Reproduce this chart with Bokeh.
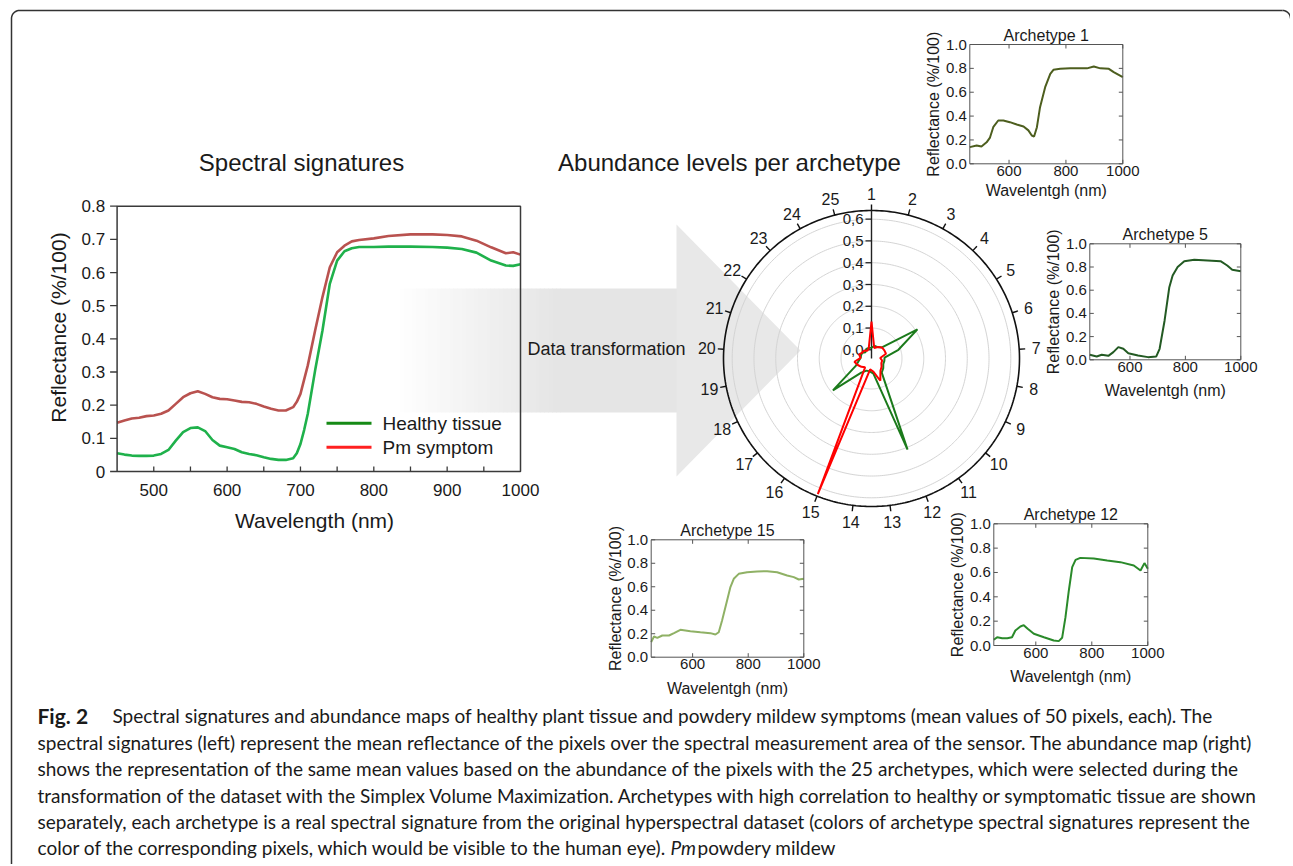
import numpy as np
from bokeh.plotting import figure
from bokeh.models import Range1d
from bokeh.embed import file_html
from bokeh.resources import INLINE
from bokeh.core.properties import value

# ---------------- DATA ----------------
# Left panel: spectral signatures (mean of 50 pixels)
healthy_wl = [450, 460, 470, 480, 490, 500, 510, 520, 530, 540, 550, 560, 570, 580, 590, 600,
              610, 620, 630, 640, 650, 660, 670, 680, 690, 695, 700, 705, 710, 720, 730, 740,
              750, 760, 770, 780, 800, 820, 850, 880, 900, 920, 940, 960, 980, 990, 1000]
healthy_refl = [0.055, 0.051, 0.048, 0.047, 0.047, 0.048, 0.053, 0.065, 0.093, 0.119, 0.131, 0.133,
                0.122, 0.095, 0.078, 0.073, 0.068, 0.058, 0.053, 0.049, 0.043, 0.038, 0.035, 0.035,
                0.040, 0.055, 0.083, 0.125, 0.174, 0.305, 0.425, 0.566, 0.636, 0.664, 0.673, 0.677,
                0.677, 0.678, 0.678, 0.677, 0.675, 0.671, 0.660, 0.636, 0.621, 0.620, 0.625]
pm_wl = [450, 460, 470, 480, 490, 500, 510, 520, 530, 540, 550, 560, 570, 580, 590, 600,
         610, 620, 630, 640, 650, 660, 670, 680, 690, 695, 700, 710, 720, 730, 740,
         750, 760, 770, 780, 800, 820, 850, 880, 900, 920, 940, 960, 980, 990, 1000]
pm_refl = [0.147, 0.154, 0.160, 0.162, 0.167, 0.169, 0.174, 0.184, 0.204, 0.224, 0.236, 0.242,
           0.234, 0.224, 0.219, 0.218, 0.214, 0.210, 0.209, 0.204, 0.196, 0.189, 0.184, 0.184,
           0.194, 0.210, 0.234, 0.320, 0.425, 0.526, 0.616, 0.661, 0.681, 0.694, 0.698, 0.703,
           0.710, 0.715, 0.715, 0.713, 0.709, 0.696, 0.676, 0.658, 0.661, 0.654]
main_xticks = [500, 600, 700, 800, 900, 1000]
main_xminor = [500, 550, 600, 650, 700, 750, 800, 850, 900, 950]
main_yticks = [0, 0.1, 0.2, 0.3, 0.4, 0.5, 0.6, 0.7, 0.8]
main_ytick_labels = ["0", "0.1", "0.2", "0.3", "0.4", "0.5", "0.6", "0.7", "0.8"]

# Radar: abundance levels per archetype
archetypes = list(range(1, 26))
healthy_abund = [0.01, 0.02, 0.02, 0.03, 0.21, 0.09, 0.02, 0.02, 0.02, 0.03, 0.04, 0.41, 0.03,
                 0.02, 0.02, 0.04, 0.19, 0.04, 0.02, 0.01, 0.01, 0.01, 0.00, 0.01, 0.01]
pm_abund = [0.13, 0.01, 0.02, 0.03, 0.03, 0.03, 0.00, 0.01, 0.01, 0.02, 0.03, 0.07, 0.02,
            0.01, 0.63, 0.01, 0.02, 0.03, 0.04, 0.01, 0.02, 0.01, 0.01, 0.00, 0.01]
radar_ticks = [0.0, 0.1, 0.2, 0.3, 0.4, 0.5, 0.6]
radar_tick_labels = ["0,0", "0,1", "0,2", "0,3", "0,4", "0,5", "0,6"]

# Archetype spectral signatures (insets)
arch1_wl = [462, 486, 503, 521, 533, 545, 562, 580, 603, 627, 651, 668, 680, 688, 698, 709, 727,
            745, 756, 780, 815, 874, 898, 921, 951, 968, 1000]
arch1_refl = [0.14, 0.154, 0.145, 0.18, 0.22, 0.31, 0.363, 0.363, 0.349, 0.33, 0.313, 0.28, 0.237,
              0.229, 0.307, 0.475, 0.642, 0.754, 0.788, 0.796, 0.80, 0.80, 0.816, 0.80, 0.796,
              0.768, 0.726]
arch5_wl = [455, 480, 498, 522, 540, 558, 576, 594, 629, 665, 695, 707, 725, 742, 754, 772, 796,
            832, 880, 927, 951, 969, 1000]
arch5_refl = [0.043, 0.029, 0.043, 0.034, 0.066, 0.109, 0.095, 0.057, 0.037, 0.023, 0.029, 0.095,
              0.339, 0.626, 0.727, 0.80, 0.85, 0.862, 0.856, 0.85, 0.813, 0.776, 0.764]
arch15_wl = [451, 461, 473, 491, 515, 533, 556, 592, 628, 664, 682, 694, 706, 724, 736, 748, 766,
             796, 832, 868, 904, 940, 964, 982, 1000]
arch15_refl = [0.128, 0.176, 0.165, 0.185, 0.185, 0.205, 0.233, 0.222, 0.213, 0.205, 0.193, 0.213,
               0.313, 0.483, 0.597, 0.668, 0.71, 0.724, 0.73, 0.733, 0.724, 0.696, 0.682, 0.662,
               0.668]
arch12_wl = [450, 462, 480, 498, 515, 527, 545, 557, 571, 593, 629, 664, 682, 694, 706, 718, 730,
             742, 759, 807, 855, 902, 950, 974, 988, 1000]
arch12_refl = [0.047, 0.068, 0.06, 0.06, 0.068, 0.123, 0.156, 0.167, 0.137, 0.096, 0.068, 0.041,
               0.036, 0.063, 0.233, 0.452, 0.644, 0.704, 0.72, 0.715, 0.699, 0.685, 0.658, 0.616,
               0.677, 0.63]
inset_xticks = [600, 800, 1000]
inset_yticks = [0.0, 0.2, 0.4, 0.6, 0.8, 1.0]
inset_ytick_labels = ["0.0", "0.2", "0.4", "0.6", "0.8", "1.0"]

caption_lines = [
    "Spectral signatures and abundance maps of healthy plant tissue and powdery mildew symptoms (mean values of 50 pixels, each). The",
    "spectral signatures (left) represent the mean reflectance of the pixels over the spectral measurement area of the sensor. The abundance map (right)",
    "shows the representation of the same mean values based on the abundance of the pixels with the 25 archetypes, which were selected during the",
    "transformation of the dataset with the Simplex Volume Maximization. Archetypes with high correlation to healthy or symptomatic tissue are shown",
    "separately, each archetype is a real spectral signature from the original hyperspectral dataset (colors of archetype spectral signatures represent the",
    "color of the corresponding pixels, which would be visible to the human eye).",
]

# ---------------- FIGURE (canvas in page pixels) ----------------
FONT = "Liberation Sans"
CAP = "Lato"
W, H = 1290, 864
p = figure(width=W, height=H, x_range=Range1d(0, W), y_range=Range1d(H, 0),
           output_backend="svg", toolbar_location=None, min_border=0,
           x_axis_location=None, y_axis_location=None)
p.grid.visible = False
p.outline_line_color = None
p.background_fill_color = "white"
p.border_fill_color = "white"


def txt(target, x, y, t, size, align="left", baseline="middle", color="#1a1a1a", angle=0,
        font=FONT, style="normal", xo=0, yo=0):
    target.text(x=x, y=y, text=t, text_font=value(font), text_font_size=f"{size}px",
                text_align=align, text_baseline=baseline, text_color=color, angle=angle,
                text_font_style=style, x_offset=xo, y_offset=yo)


# Border of the figure box
arc = np.linspace(0, np.pi / 2, 12)
rad = 8
bx = list(11 + rad - rad * np.cos(arc)) + [1282]
by = list(10 + rad - rad * np.sin(arc)) + [10]
p.line([11] + bx, [870] + by, line_color="#333333", line_width=1.5)
bx2 = 1282 + rad * np.sin(arc)
by2 = 10 + rad - rad * np.cos(arc)
p.line(list(bx2), list(by2), line_color="#333333", line_width=1.5)

# ---------------- Arrow (gradient) ----------------
n_strip = 40
xs_edge = np.linspace(395, 560, n_strip + 1)
shade = np.linspace(255, 229, n_strip)
cols = ["#%02x%02x%02x" % (int(s), int(s), int(s)) for s in shade]
p.quad(left=xs_edge[:-1], right=xs_edge[1:] + 0.6, top=288, bottom=412, fill_color=cols,
       line_color=None)
p.quad(left=[560], right=[677], top=288, bottom=412, fill_color="#e5e5e5", line_color=None)
p.patch([676, 800, 676], [224, 350, 476], fill_color="#e8e8e8", line_color=None)

# ---------------- Left panel ----------------
MX0, MX1, MY0, MY1 = 116.6, 520.0, 471.0, 205.7
sp = p.subplot(x_source=Range1d(450, 1000), x_target=Range1d(MX0, MX1),
               y_source=Range1d(0, 0.8), y_target=Range1d(MY0, MY1))
pxx = (MX1 - MX0) / 550.0
pxy = (MY0 - MY1) / 0.8
sp.line(pm_wl, pm_refl, line_color="#b9524f", line_width=2.6)
sp.line(healthy_wl, healthy_refl, line_color="#1fb14b", line_width=2.6)
sp.quad(left=[450], right=[1000], bottom=[0], top=[0.8], fill_color=None,
        line_color="#3a3a3a", line_width=1.5)
n = len(main_xminor)
sp.segment(x0=main_xminor, y0=[0] * n, x1=main_xminor, y1=[5 / pxy] * n,
           line_color="#3a3a3a", line_width=1.3)
m = len(main_yticks)
sp.segment(x0=[450] * m, y0=main_yticks, x1=[450 - 7 / pxx] * m, y1=main_yticks,
           line_color="#3a3a3a", line_width=1.3)
txt(sp, [450] * m, main_yticks, main_ytick_labels, 17, align="right", xo=-12)
txt(sp, main_xticks, [0] * len(main_xticks), [str(t) for t in main_xticks], 17,
    align="center", baseline="top", yo=12)
txt(p, [58], [327], ["Reflectance (%/100)"], 21, align="center", angle=np.pi / 2)
txt(p, [314], [520], ["Wavelength (nm)"], 21, align="center")
txt(p, [301], [162], ["Spectral signatures"], 24, align="center")
# legend
p.line([326, 371], [422.7, 422.7], line_color="#168a16", line_width=3)
p.line([326, 371], [446.7, 446.7], line_color="#ff2020", line_width=3)
txt(p, [382, 382], [422.7, 446.7], ["Healthy tissue", "Pm symptom"], 19)

txt(p, [527], [348], ["Data transformation"], 18)
txt(p, [729], [162], ["Abundance levels per archetype"], 24, align="center")

# ---------------- Radar ----------------
CX, CY, RPX = 871.0, 358.0, 148.0
RMIN, RMAX = -0.04, 0.64
RO = RMAX - RMIN
rd = p.subplot(x_source=Range1d(-RO, RO), x_target=Range1d(CX - RPX, CX + RPX),
               y_source=Range1d(-RO, RO), y_target=Range1d(CY + RPX, CY - RPX))
ppu = RPX / RO
th = np.linspace(0, 2 * np.pi, 361)
ring_x = [list((t - RMIN) * np.sin(th)) for t in radar_ticks[1:]]
ring_y = [list((t - RMIN) * np.cos(th)) for t in radar_ticks[1:]]
rd.multi_line(ring_x, ring_y, line_color="#d4d4d4", line_width=1)
rd.line(list(RO * np.sin(th)), list(RO * np.cos(th)), line_color="#111111", line_width=1.6)
ang = (np.array(archetypes) - 1) * 2 * np.pi / 25
tick_len = 6 / ppu
rd.segment(x0=RO * np.sin(ang), y0=RO * np.cos(ang), x1=(RO + tick_len) * np.sin(ang),
           y1=(RO + tick_len) * np.cos(ang), line_color="#111111", line_width=1.4)
RL = RO + 17 / ppu
txt(rd, RL * np.sin(ang), RL * np.cos(ang), [str(a) for a in archetypes], 16, align="center")
# radial axis
rd.line([0, 0], [0, RO], line_color="#222222", line_width=1.4)
rt = [t - RMIN for t in radar_ticks]
k = len(rt)
rd.segment(x0=[0] * k, y0=rt, x1=[-6 / ppu] * k, y1=rt, line_color="#222222", line_width=1.3)
txt(rd, [0] * k, rt, radar_tick_labels, 15, align="right", xo=-8)


def polar(vals):
    r = np.array(vals) - RMIN
    xs = list(r * np.sin(ang)) + [r[0] * np.sin(ang[0])]
    ys = list(r * np.cos(ang)) + [r[0] * np.cos(ang[0])]
    return xs, ys


hx, hy = polar(healthy_abund)
rd.line(hx, hy, line_color="#1b7a1b", line_width=2)
qx, qy = polar(pm_abund)
rd.line(qx, qy, line_color="#ff0000", line_width=2)


# ---------------- Insets ----------------
def inset(L, R, T, B, xlim, wl, refl, color, title, xl_off):
    sub = p.subplot(x_source=Range1d(*xlim), x_target=Range1d(L, R),
                    y_source=Range1d(0, 1), y_target=Range1d(B, T))
    ux = (R - L) / (xlim[1] - xlim[0])
    uy = (B - T)
    sub.line(wl, refl, line_color=color, line_width=2)
    sub.quad(left=[xlim[0]], right=[xlim[1]], bottom=[0], top=[1], fill_color=None,
             line_color="#555555", line_width=1)
    xt = inset_xticks
    nx = len(xt)
    sub.segment(x0=xt, y0=[0] * nx, x1=xt, y1=[4 / uy] * nx, line_color="#555555")
    sub.segment(x0=xt, y0=[1] * nx, x1=xt, y1=[1 - 4 / uy] * nx, line_color="#555555")
    ny = len(inset_yticks)
    sub.segment(x0=[xlim[0]] * ny, y0=inset_yticks, x1=[xlim[0] + 4 / ux] * ny, y1=inset_yticks,
                line_color="#555555")
    sub.segment(x0=[xlim[1]] * ny, y0=inset_yticks, x1=[xlim[1] - 4 / ux] * ny, y1=inset_yticks,
                line_color="#555555")
    txt(sub, xt, [0] * nx, [str(t) for t in xt], 15, align="center", baseline="top", yo=2)
    txt(sub, [xlim[0]] * ny, inset_yticks, inset_ytick_labels, 15, align="right", xo=-3)
    mid = (xlim[0] + xlim[1]) / 2
    txt(sub, [mid], [1], [title], 16, align="center", baseline="bottom", yo=-1)
    txt(sub, [mid], [0], ["Wavelentgh (nm)"], 16, align="center", baseline="middle", yo=xl_off)
    txt(p, [L - 36], [(T + B) / 2], ["Reflectance (%/100)"], 16, align="center",
        angle=np.pi / 2)


inset(969.3, 1122.3, 44.0, 163.3, (462, 1000), arch1_wl, arch1_refl, "#4d5e1e", "Archetype 1", 27)
inset(1089.3, 1240.3, 243.3, 359.3, (455, 1000), arch5_wl, arch5_refl, "#235a23", "Archetype 5", 31)
inset(650.7, 803.3, 539.3, 656.7, (451, 1000), arch15_wl, arch15_refl, "#8fb165", "Archetype 15", 31)
inset(993.3, 1147.3, 523.3, 645.0, (450, 1000), arch12_wl, arch12_refl, "#2a8a2a", "Archetype 12", 31)

# ---------------- Caption ----------------
cap_y = [715, 741.5, 768, 794.5, 821, 847]
txt(p, [37], [cap_y[0]], ["Fig. 2"], 21, font=CAP, style="bold")
txt(p, [112], [cap_y[0]], [caption_lines[0]], 19, font=CAP)
txt(p, [37] * 5, cap_y[1:], caption_lines[1:], 19, font=CAP)
txt(p, [670], [cap_y[5]], ["Pm"], 19, font=CAP, style="italic")
txt(p, [697], [cap_y[5]], ["powdery mildew"], 19, font=CAP)

open("out.html", "w").write(file_html(p, INLINE))
